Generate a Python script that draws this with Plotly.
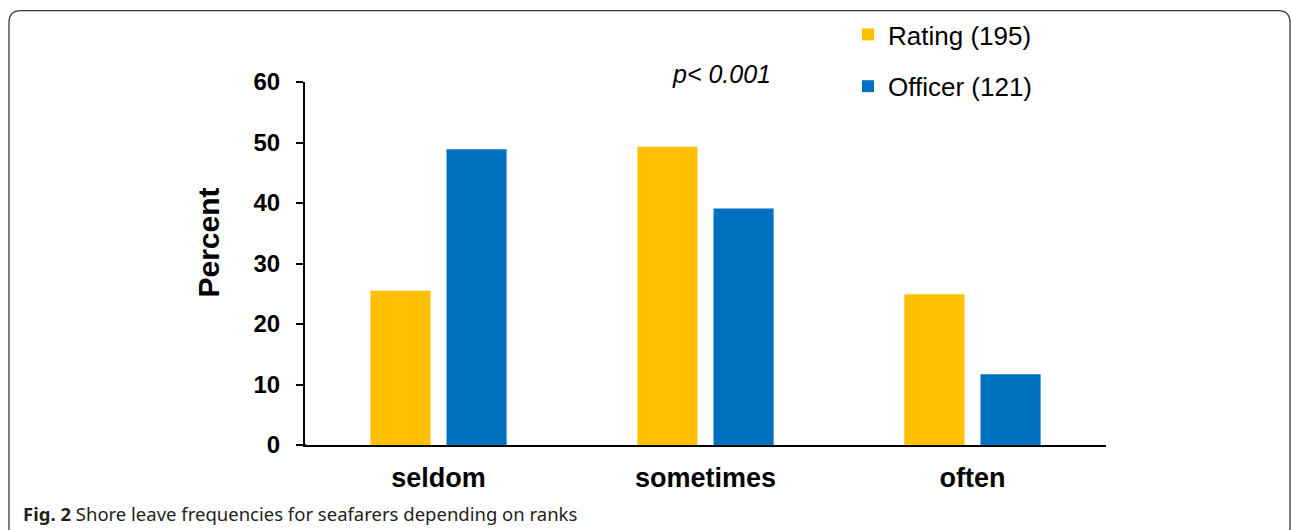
import plotly.graph_objects as go

# ---- data ----
categories = ["seldom", "sometimes", "often"]
rating_values = [25.5, 49.3, 24.9]
officer_values = [48.9, 39.1, 11.7]
series_names = ["Rating (195)", "Officer (121)"]
y_ticks = [0, 10, 20, 30, 40, 50, 60]

# ---- layout geometry (pixels) ----
W, H = 1292, 530
L, R, T, B = 305, 186, 81, 85
PW, PH = W - L - R, H - T - B


def px(x):
    return (x - L) / PW


def py(y):
    return (H - B - y) / PH


FONT = "Arial, Liberation Sans, sans-serif"

fig = go.Figure()
fig.add_trace(go.Bar(x=categories, y=rating_values, name=series_names[0],
                     marker=dict(color="#FFC000", line=dict(width=0)),
                     legendgroup="a"))
fig.add_trace(go.Bar(x=categories, y=officer_values, name=series_names[1],
                     marker=dict(color="#0070C0", line=dict(width=0)),
                     legendgroup="b"))

# rounded frame around the figure (decoration)
x0, x1, y0, yb, r = 9, 1290, 9.5, 545, 12
frame = (f"M {px(x0)},{py(yb)} L {px(x0)},{py(y0 + r)} "
         f"Q {px(x0)},{py(y0)} {px(x0 + r)},{py(y0)} "
         f"L {px(x1 - r)},{py(y0)} Q {px(x1)},{py(y0)} {px(x1)},{py(y0 + r)} "
         f"L {px(x1)},{py(yb)}")

# small extension of the baseline to the left of the y axis (decoration)
baseline_ext = dict(type="line", xref="paper", yref="paper",
                    x0=px(298), x1=px(306), y0=0, y1=0,
                    line=dict(color="black", width=2))

fig.update_layout(
    width=W, height=H,
    margin=dict(l=L, r=R, t=T, b=B),
    paper_bgcolor="white", plot_bgcolor="white",
    barmode="group", bargap=0.43, bargroupgap=0.21,
    font=dict(family=FONT, color="black"),
    showlegend=True,
    legend=dict(x=px(848), y=py(11), xanchor="left", yanchor="top",
                font=dict(size=26, family=FONT, color="black"),
                traceorder="grouped", tracegroupgap=15,
                bgcolor="rgba(0,0,0,0)"),
    xaxis=dict(range=[-0.5, 2.5], showline=True, linecolor="black", linewidth=2,
               ticks="", showgrid=False, zeroline=False,
               tickfont=dict(size=27, family=FONT, color="black", weight="bold"),
               ticklabelstandoff=8),
    yaxis=dict(range=[0, 60], tickvals=y_ticks, showline=True, linecolor="black",
               linewidth=2, ticks="outside", ticklen=7, tickwidth=1.5,
               tickcolor="black", showgrid=False, zeroline=False,
               tickfont=dict(size=24, family=FONT, color="black", weight="bold"),
               ticklabelstandoff=11),
    shapes=[dict(type="path", path=frame, xref="paper", yref="paper",
                 line=dict(color="#3a3a3a", width=1.3), layer="below"),
            baseline_ext],
    annotations=[
        dict(text="Percent", x=px(209), y=py(242), xref="paper", yref="paper",
             textangle=-90, showarrow=False, xanchor="center", yanchor="middle",
             font=dict(size=30, family=FONT, color="black", weight="bold")),
        dict(text="<i>p< 0.001</i>", x=px(721), y=py(73), xref="paper", yref="paper",
             showarrow=False, xanchor="center", yanchor="middle",
             font=dict(size=25, family=FONT, color="black")),
        dict(text="<b>Fig. 2</b> Shore leave frequencies for seafarers depending on ranks",
             x=px(21), y=py(514), xref="paper", yref="paper",
             showarrow=False, xanchor="left", yanchor="middle",
             font=dict(size=18.5, family="Noto Sans, Open Sans, sans-serif", color="#231F20")),
    ],
)

fig.write_html("out.html")
